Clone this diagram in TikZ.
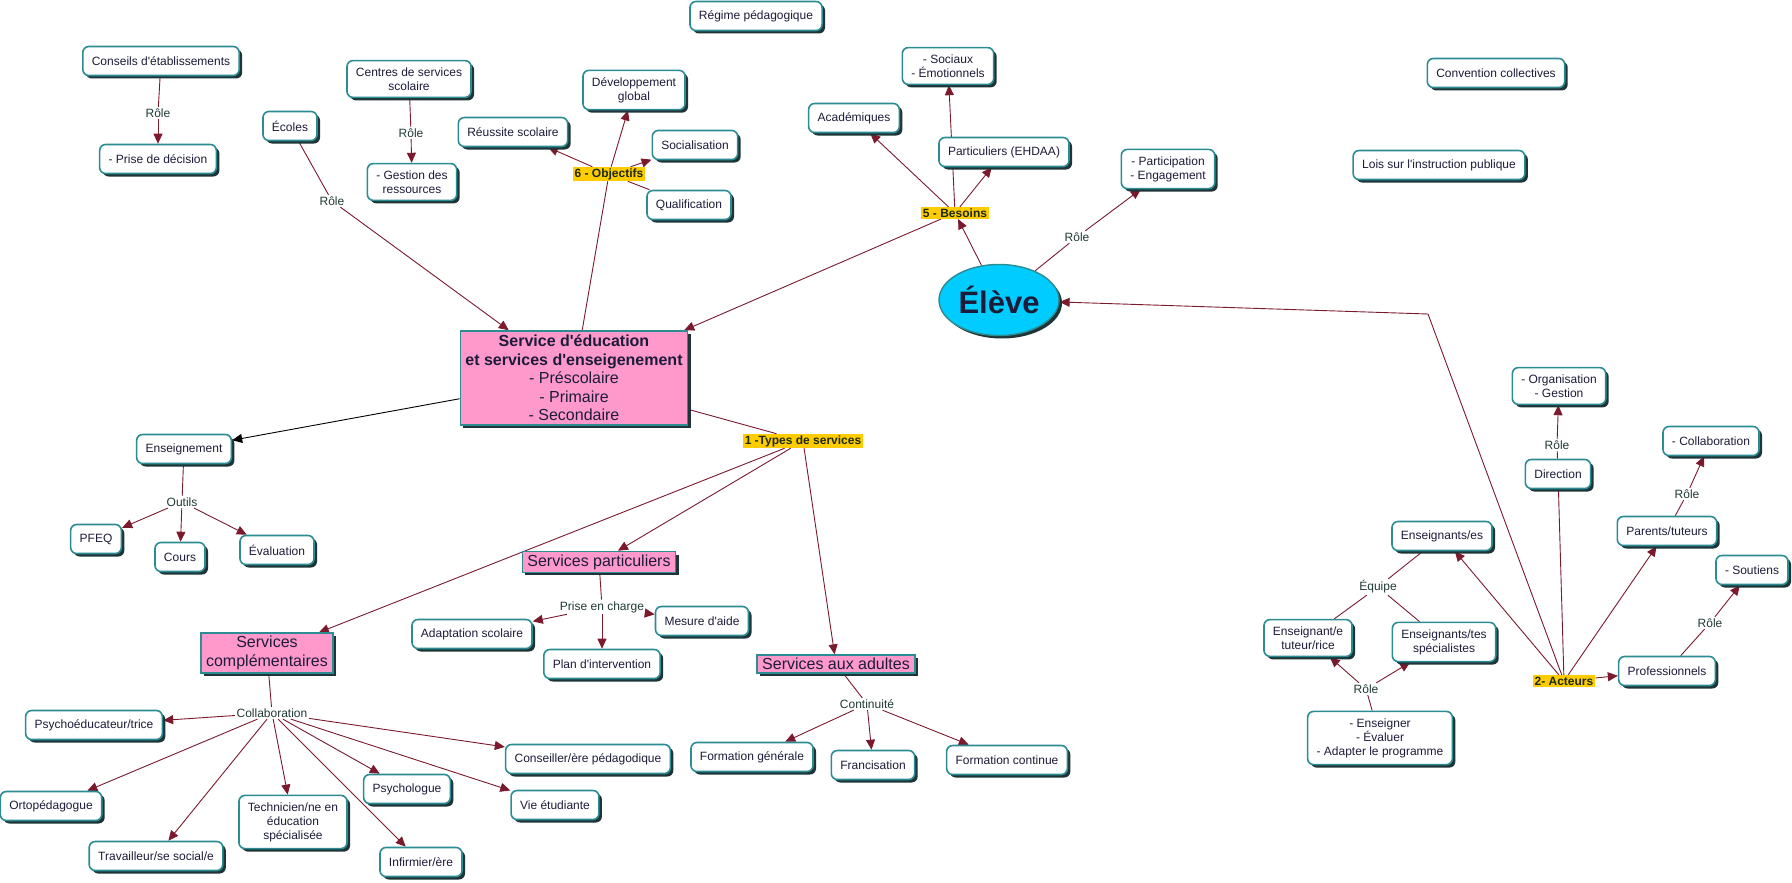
\documentclass[tikz,border=0pt]{standalone}
\usepackage{fontspec}
\setmainfont{Liberation Sans}
\newfontfamily\lsans{Liberation Sans}
\usetikzlibrary{arrows.meta,shapes.geometric,shadows}
\definecolor{tealb}{HTML}{2B8C94}
\definecolor{shad}{HTML}{1E3436}
\definecolor{lnk}{HTML}{7A1A2C}
\definecolor{txt}{HTML}{1C1C3A}
\definecolor{pinkc}{HTML}{FF99CC}
\definecolor{yel}{HTML}{FFCC00}
\definecolor{cyanc}{HTML}{00CCFF}
\definecolor{lbl}{HTML}{1F3A36}
\definecolor{hltxt}{HTML}{1C2A14}
\pgfdeclarelayer{bg}
\pgfsetlayers{bg,main}
\tikzset{
 myshadow/.style={drop shadow={shadow xshift=3pt,shadow yshift=-3pt,fill=shad,opacity=1}},
 concept/.style={draw=tealb,line width=1.6pt,fill=white,rounded corners=6pt,text=txt,
   font=\lsans\fontsize{12}{14}\selectfont,align=center,inner xsep=9pt,inner ysep=7pt,
   minimum height=29pt,myshadow},
 pinkbox/.style={draw=tealb,line width=1.6pt,fill=pinkc,text=txt,
   font=\lsans\fontsize{16}{18.5}\selectfont,align=center,inner xsep=5pt,inner ysep=3pt,myshadow},
 phrase/.style={text=lbl,font=\lsans\fontsize{12}{14}\selectfont,inner sep=1.5pt,align=center},
 hilite/.style={fill=yel,text=hltxt,font=\lsans\bfseries\fontsize{12}{14}\selectfont,
   inner xsep=2pt,inner ysep=1.5pt},
 conn/.style={draw=lnk,line width=0.9pt},
 arr/.style={conn,-{Triangle[length=10pt,width=9pt]}},
}
\begin{document}
\begin{tikzpicture}[x=1pt,y=-1pt]
\useasboundingbox (0,0) rectangle (1792,883);
% top left
\node[concept] (conseils) at (161,61) {Conseils d'établissements};
\node[phrase] (r1) at (158,113) {Rôle};
\node[concept] (prise) at (158,159) {- Prise de décision};
\node[concept] (ecoles) at (290,126) {Écoles};
\node[phrase] (r2) at (332,201) {Rôle};
\node[concept] (centres) at (409,79) {Centres de services\\scolaire};
\node[phrase] (r3) at (411,133) {Rôle};
\node[concept] (gestion) at (412,182) {- Gestion des\\ressources};
\node[concept] (regime) at (756,16) {Régime pédagogique};
\node[concept] (dev) at (634,90) {Développement\\global};
\node[concept] (reussite) at (513,132) {Réussite scolaire};
\node[concept] (social) at (695,145) {Socialisation};
\node[hilite] (obj) at (609,174) {6 - Objectifs};
\node[concept] (qualif) at (689,205) {Qualification};
\node[concept] (acad) at (854,118) {Académiques};
\node[concept] (sociaux) at (948,66) {- Sociaux\\- Émotionnels};
\node[concept] (partic) at (1004,152) {Particuliers (EHDAA)};
\node[hilite] (besoins) at (955,213) {5 - Besoins};
\node[concept] (particip) at (1168,169) {- Participation\\- Engagement};
\node[phrase] (r4) at (1077,237) {Rôle};
\node[ellipse,draw=tealb,line width=1.4pt,fill=cyanc,minimum width=120pt,minimum height=71pt,
  inner sep=0pt,text=txt,font=\lsans\bfseries\fontsize{31}{36}\selectfont,myshadow] (eleve) at (999,300) {Élève};
\node[concept] (convention) at (1496,73) {Convention collectives};
\node[concept] (lois) at (1439,165) {Lois sur l'instruction publique};
% centre
\node[pinkbox,inner ysep=4pt] (service) at (574,378) {{\bfseries Service d'éducation}\\{\bfseries et services d'enseigenement}\\- Préscolaire\\- Primaire\\- Secondaire};
\node[concept] (enseign) at (184,449) {Enseignement};
\node[phrase] (outils) at (182,502) {Outils};
\node[concept] (pfeq) at (96,539) {PFEQ};
\node[concept] (cours) at (180,557) {Cours};
\node[concept] (eval) at (277,550) {Évaluation};
\node[hilite] (types) at (803,441) {1 -Types de services};
\node[pinkbox] (spart) at (599,562) {Services particuliers};
\node[pinkbox] (scomp) at (267,653) {Services\\complémentaires};
\node[phrase] (collab) at (272,713) {Collaboration};
\node[concept] (psyed) at (94,725) {Psychoéducateur/trice};
\node[concept] (orto) at (51,806) {Ortopédagogue};
\node[concept] (trav) at (156,856) {Travailleur/se social/e};
\node[concept] (tech) at (293,822) {Technicien/ne en\\éducation\\spécialisée};
\node[concept] (psycho) at (407,789) {Psychologue};
\node[concept] (infir) at (421,862) {Infirmier/ère};
\node[concept] (adapt) at (472,634) {Adaptation scolaire};
\node[phrase] (prise2) at (602,607) {Prise en charge};
\node[concept] (mesure) at (702,621) {Mesure d'aide};
\node[concept] (plan) at (602,664) {Plan d'intervention};
\node[concept] (conseiller) at (588,759) {Conseiller/ère pédagodique};
\node[concept] (vie) at (555,805) {Vie étudiante};
\node[pinkbox] (sadult) at (836,664) {Services aux adultes};
\node[phrase] (contin) at (867,704) {Continuité};
\node[concept] (fgen) at (752,757) {Formation générale};
\node[concept] (franc) at (873,765) {Francisation};
\node[concept] (fcont) at (1007,760) {Formation continue};
% right
\node[concept] (orga) at (1559,386) {- Organisation\\- Gestion};
\node[phrase] (r5) at (1557,445) {Rôle};
\node[concept] (direction) at (1558,474) {Direction};
\node[concept] (collabo) at (1711,441) {- Collaboration};
\node[phrase] (r6) at (1687,494) {Rôle};
\node[concept] (parents) at (1667,531) {Parents/tuteurs};
\node[concept] (enseignants) at (1442,536) {Enseignants/es};
\node[phrase] (equipe) at (1378,587) {Équipe};
\node[concept] (soutiens) at (1752,570) {- Soutiens};
\node[concept] (tuteur) at (1308,638) {Enseignant/e\\tuteur/rice};
\node[concept] (specia) at (1444,642) {Enseignants/tes\\spécialistes};
\node[phrase] (r7) at (1366,689) {Rôle};
\node[concept] (enseigner) at (1380,738) {- Enseigner\\- Évaluer\\- Adapter le programme};
\node[hilite] (acteurs) at (1564,681) {2- Acteurs};
\node[concept] (pro) at (1667,671) {Professionnels};
\node[phrase] (r8) at (1710,623) {Rôle};
\coordinate (bend) at (1428,314);
\begin{pgfonlayer}{bg}
\draw[conn] (conseils) -- (r1); \draw[arr] (r1) -- (prise);
\draw[conn] (centres) -- (r3); \draw[arr] (r3) -- (gestion);
\draw[conn] (ecoles) -- (r2); \draw[arr] (r2) -- (service);
\draw[conn] (service) -- (obj);
\draw[arr] (obj) -- (dev); \draw[arr] (obj) -- (reussite); \draw[arr] (obj) -- (social);
\draw[conn] (obj) -- (qualif);
\draw[arr] (eleve) -- (besoins);
\draw[arr] (besoins) -- (acad); \draw[arr] (besoins) -- (sociaux);
\draw[arr] (besoins) -- (partic); \draw[arr] (besoins) -- (service);
\draw[conn] (eleve) -- (r4); \draw[arr] (r4) -- (particip);
\draw[arr] (acteurs) -- (bend) -- (eleve);
\draw[arr] (acteurs) -- (enseignants);
\draw[conn] (acteurs) -- (direction);
\draw[arr] (acteurs) -- (parents);
\draw[arr] (acteurs) -- (pro);
\draw[conn] (direction) -- (r5); \draw[arr] (r5) -- (orga);
\draw[conn] (parents) -- (r6); \draw[arr] (r6) -- (collabo);
\draw[conn] (pro) -- (r8); \draw[arr] (r8) -- (soutiens);
\draw[conn] (enseignants) -- (equipe);
\draw[conn] (equipe) -- (tuteur); \draw[conn] (equipe) -- (specia);
\draw[conn] (enseigner) -- (r7);
\draw[arr] (r7) -- (tuteur); \draw[arr] (r7) -- (specia);
\draw[line width=0.9pt,-{Triangle[length=10pt,width=9pt]}] (service) -- (enseign);
\draw[conn] (enseign) -- (outils);
\draw[arr] (outils) -- (pfeq); \draw[arr] (outils) -- (cours); \draw[arr] (outils) -- (eval);
\draw[conn] (service) -- (types);
\draw[arr] (types) -- (spart); \draw[arr] (types) -- (scomp); \draw[arr] (types) -- (sadult);
\draw[conn] (spart) -- (prise2);
\draw[arr] (prise2) -- (adapt); \draw[arr] (prise2) -- (plan); \draw[arr] (prise2) -- (mesure);
\draw[conn] (scomp) -- (collab);
\foreach \t in {psyed,orto,trav,tech,psycho,infir,conseiller,vie}
  \draw[arr] (collab) -- (\t);
\draw[conn] (sadult) -- (contin);
\draw[arr] (contin) -- (fgen); \draw[arr] (contin) -- (franc); \draw[arr] (contin) -- (fcont);
\end{pgfonlayer}
\end{tikzpicture}
\end{document}
